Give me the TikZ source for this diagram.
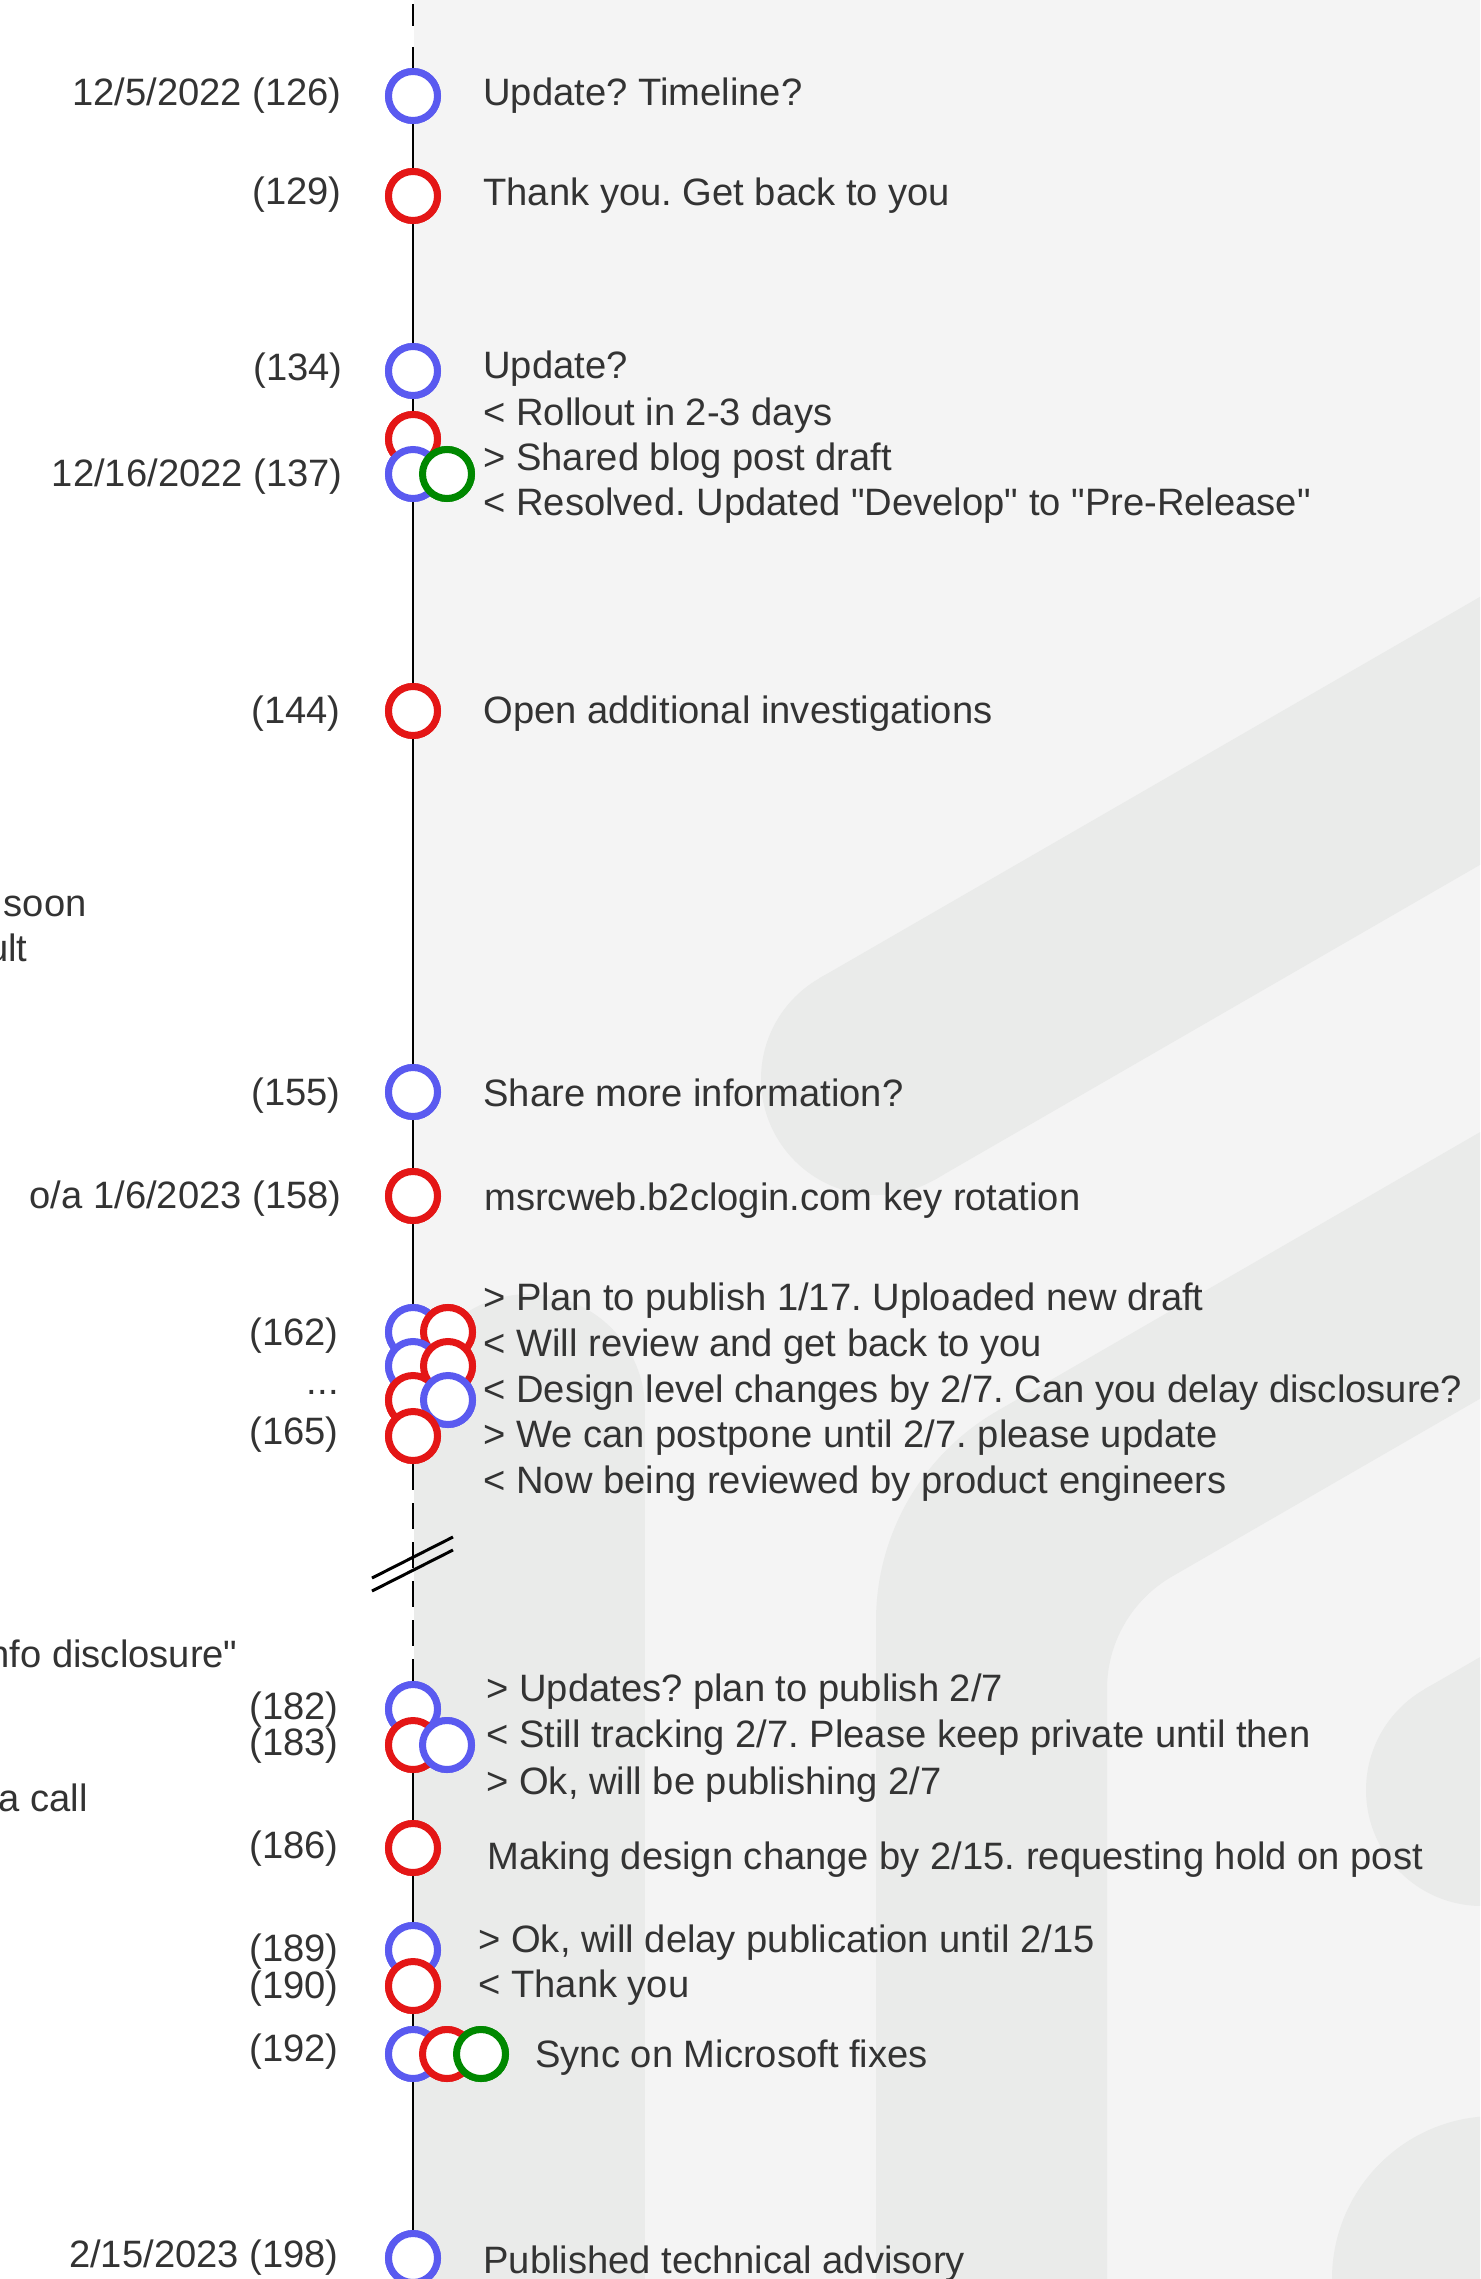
\documentclass[tikz,border=0pt]{standalone}
\usepackage{fontspec}
\setmainfont{Liberation Sans}[Ligatures=TeXOff]
\definecolor{bgA}{HTML}{F4F4F4}
\definecolor{bgB}{HTML}{EAEBEA}
\definecolor{cblue}{RGB}{90,90,240}
\definecolor{cred}{RGB}{228,22,22}
\definecolor{cgreen}{RGB}{0,136,0}
\definecolor{txt}{HTML}{333333}
\begin{document}
\frenchspacing
\begin{tikzpicture}[x=0.5pt,y=-0.5pt,
  ev/.style={circle,draw,line width=3.5pt,minimum size=24.5pt,inner sep=0pt,fill=white},
  bl/.style={ev,draw=cblue},
  rd/.style={ev,draw=cred},
  gr/.style={ev,draw=cgreen},
  lbl/.style={font=\fontsize{19.08}{23}\selectfont,text=txt,inner sep=0pt},
  lt/.style={lbl,anchor=base east},
  rt/.style={lbl,anchor=base west},
  tl/.style={line width=1.2pt,black},
  logo/.style={fill=bgB}]
\useasboundingbox (0,0) rectangle (1480,2279);
% background
\fill[bgA] (414,0) rectangle (1480,2279);
\begin{scope}
\clip (414,0) rectangle (1480,2279);
% upper diagonal stadium
\fill[logo] (819,978.5) -- (1685,478.5) -- (1801,679.5) -- (935,1179.5) -- cycle;
\fill[logo] (877,1079) circle[radius=116];
% left stem
\fill[logo] (414,1409.5) rectangle (645,2300);
\fill[logo] (529.5,1409.5) circle[radius=115.5];
% r-shaped stroke
\fill[logo] (876,2300) -- (876,1621) .. controls (876,1534.3) and (922.1,1454.4) .. (997.2,1411)
  -- (1800,947.3) -- (1800,1214) -- (1172,1576.5) .. controls (1131.8,1599.7) and (1107,1642.6) .. (1107,1689)
  -- (1107,2300) -- cycle;
% right stadium
\fill[logo] (1424,1689.5) -- (1800,1472) -- (1900,1700) -- (1540,1890) -- cycle;
\fill[logo] (1482,1790) circle[radius=116];
% bottom right
\fill[logo] (1495,2279) circle[radius=163];
\end{scope}
% timeline ends
\coordinate (top) at (413,4);
\coordinate (bot) at (413,2279);
% circles
\node[bl] (c126) at (413,96) {};
\node[rd] (c129) at (413,196) {};
\node[bl] (c134) at (413,371) {};
\node[rd] (c137a) at (413,439) {};
\node[bl] (c137b) at (413,474) {};
\node[gr] (c137c) at (447,474) {};
\node[rd] (c144) at (413,711) {};
\node[bl] (c155) at (413,1092) {};
\node[rd] (c158) at (413,1196) {};
\node[bl] (c162a) at (413,1332) {};
\node[rd] (c162b) at (448,1332) {};
\node[bl] (c163a) at (413,1366) {};
\node[rd] (c163b) at (448,1366) {};
\node[rd] (c164a) at (413,1400) {};
\node[bl] (c164b) at (448,1400) {};
\node[rd] (c165) at (413,1436) {};
\node[bl] (c182) at (413,1709) {};
\node[rd] (c183a) at (413,1745) {};
\node[bl] (c183b) at (447,1745) {};
\node[rd] (c186) at (413,1848) {};
\node[bl] (c189) at (413,1950) {};
\node[rd] (c190) at (413,1986) {};
\node[bl] (c192a) at (413,2054) {};
\node[rd] (c192b) at (447,2054) {};
\node[gr] (c192c) at (481,2054) {};
\node[bl] (c198) at (413,2258) {};
% connectors
\draw[tl,dash pattern=on 11pt off 10.5pt] (top) -- (c126.north);
\draw[tl] (c126) -- (c129) -- (c134) -- (c137a);
\draw[tl] (c137b) -- (c144) -- (c155) -- (c158) -- (c162a);
\draw[tl,dash pattern=on 13pt off 6.5pt] (c165.south) -- (c182.north);
\draw[tl] (c183a) -- (c186) -- (c189);
\draw[tl] (c190) -- (c192a);
\draw[tl] (c192a) -- (bot);
% break mark
\coordinate (bk1a) at (372,1578); \coordinate (bk1b) at (453,1537);
\coordinate (bk2a) at (372,1591); \coordinate (bk2b) at (453,1550);
\draw[line width=1.5pt] (bk1a) -- (bk1b);
\draw[line width=1.5pt] (bk2a) -- (bk2b);
% redraw circles over lines
\foreach \n/\s in {c126/bl,c129/rd,c134/bl,c137a/rd,c137b/bl,c137c/gr,c144/rd,c155/bl,c158/rd,
  c162a/bl,c162b/rd,c163a/bl,c163b/rd,c164a/rd,c164b/bl,c165/rd,c182/bl,c183a/rd,c183b/bl,
  c186/rd,c189/bl,c190/rd,c192a/bl,c192b/rd,c192c/gr,c198/bl}
  {\node[\s] at (\n) {};}
% left labels
\node[lt] (l126) at (342,106) {12/5/2022 (126)};
\node[lt] (l129) at (342,205) {(129)};
\node[lt] (l134) at (343,380) {(134)};
\node[lt] (l137) at (343,486) {12/16/2022 (137)};
\node[lt] (l144) at (341,723) {(144)};
\node[lt] (lsoon) at (87,916) {soon};
\node[lt] (lult) at (28,961) {ult};
\node[lt] (l155) at (341,1105) {(155)};
\node[lt] (l158) at (342,1208) {o/a 1/6/2023 (158)};
\node[lt] (l162) at (339,1345) {(162)};
\node[lt] (ldots) at (339,1394) {...};
\node[lt] (l165) at (339,1444) {(165)};
\node[lt] (linfo) at (238,1667) {nfo disclosure"};
\node[lt] (l182) at (339,1719) {(182)};
\node[lt] (l183) at (339,1755) {(183)};
\node[lt] (lcall) at (88,1811) {a call};
\node[lt] (l186) at (339,1858) {(186)};
\node[lt] (l189) at (339,1961) {(189)};
\node[lt] (l190) at (339,1998) {(190)};
\node[lt] (l192) at (339,2061) {(192)};
\node[lt] (l198) at (339,2267) {2/15/2023 (198)};
% right texts
\node[rt] (t126) at (483,106) {Update? Timeline?};
\node[rt] (t129) at (483,206) {Thank you. Get back to you};
\node[rt] (t134a) at (483,379) {Update?};
\node[rt] (t134b) at (483,425) {< Rollout in 2-3 days};
\node[rt] (t137a) at (483,470) {> Shared blog post draft};
\node[rt] (t137b) at (483,515) {< Resolved. Updated "Develop" to "Pre-Release"};
\node[rt] (t144) at (483,723) {Open additional investigations};
\node[rt] (t155) at (483,1106) {Share more information?};
\node[rt] (t158) at (484,1210) {msrcweb.b2clogin.com key rotation};
\node[rt] (t161) at (483,1310) {> Plan to publish 1/17. Uploaded new draft};
\node[rt] (t162) at (483,1356) {< Will review and get back to you};
\node[rt] (t163) at (483,1402) {< Design level changes by 2/7. Can you delay disclosure?};
\node[rt] (t164) at (483,1447) {> We can postpone until 2/7. please update};
\node[rt] (t165) at (483,1493) {< Now being reviewed by product engineers};
\node[rt] (t182) at (486,1701) {> Updates? plan to publish 2/7};
\node[rt] (t183) at (486,1747) {< Still tracking 2/7. Please keep private until then};
\node[rt] (t184) at (486,1794) {> Ok, will be publishing 2/7};
\node[rt] (t186) at (487,1869) {Making design change by 2/15. requesting hold on post};
\node[rt] (t189) at (478,1952) {> Ok, will delay publication until 2/15};
\node[rt] (t190) at (478,1997) {< Thank you};
\node[rt] (t192) at (535,2067) {Sync on Microsoft fixes};
\node[rt] (t198) at (483,2273) {Published technical advisory};
\end{tikzpicture}
\end{document}
